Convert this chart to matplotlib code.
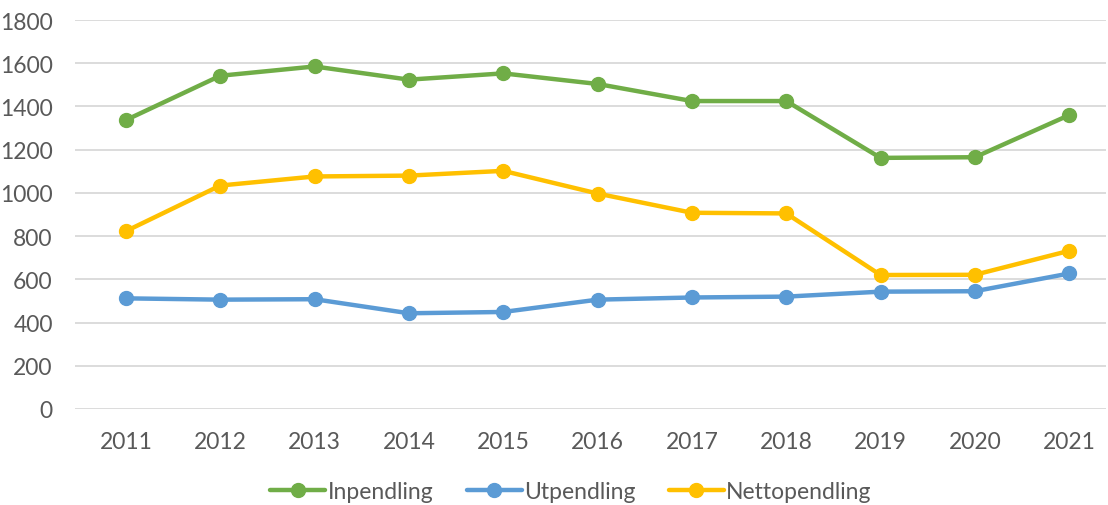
import matplotlib
matplotlib.use("Agg")
import matplotlib.pyplot as plt

years = ["2011", "2012", "2013", "2014", "2015", "2016", "2017", "2018", "2019", "2020", "2021"]
inpendling = [1337, 1542, 1585, 1524, 1553, 1504, 1425, 1425, 1162, 1165, 1360]
utpendling = [512, 506, 508, 443, 449, 506, 516, 520, 543, 545, 627]
nettopendling = [823, 1034, 1076, 1080, 1102, 997, 908, 905, 620, 621, 732]
yticks = [0, 200, 400, 600, 800, 1000, 1200, 1400, 1600, 1800]

plt.rcParams['font.family'] = ['Lato', 'DejaVu Sans']

W, H = 1108, 506
fig = plt.figure(figsize=(W / 100, H / 100), dpi=100)
left, right, top, bottom = 75, 1106, 21, 410
ax = fig.add_axes([left / W, 1 - bottom / H, (right - left) / W, (bottom - top) / H])

x = list(range(len(years)))
series = [("Inpendling", inpendling, "#70AD47"),
          ("Utpendling", utpendling, "#5B9BD5"),
          ("Nettopendling", nettopendling, "#FFC000")]
for name, vals, col in series:
    ax.plot(x, vals, color=col, lw=3.2, marker="o", ms=10, label=name,
            solid_capstyle="round", zorder=3)

ax.set_ylim(0, 1800)
ax.set_yticks(yticks)
ax.set_xticks(x)
ax.set_xticklabels(years)
ax.set_xlim(-0.54, 10.39)
ax.grid(axis="y", color="#D9D9D9", lw=1.3, zorder=0)
ax.set_axisbelow(True)
for s in ax.spines.values():
    s.set_visible(False)
ax.tick_params(axis="both", length=0, labelsize=16.5, colors="#595959")
ax.tick_params(axis="y", pad=16)
ax.tick_params(axis="x", pad=16)

leg = fig.legend(loc="center", bbox_to_anchor=(571 / W, 1 - 493 / H), ncol=3, frameon=False,
                 fontsize=16.5, handlelength=2.4, columnspacing=1.45, handletextpad=0.1)
for t in leg.get_texts():
    t.set_color("#595959")

fig.savefig("out.png", dpi=100)
